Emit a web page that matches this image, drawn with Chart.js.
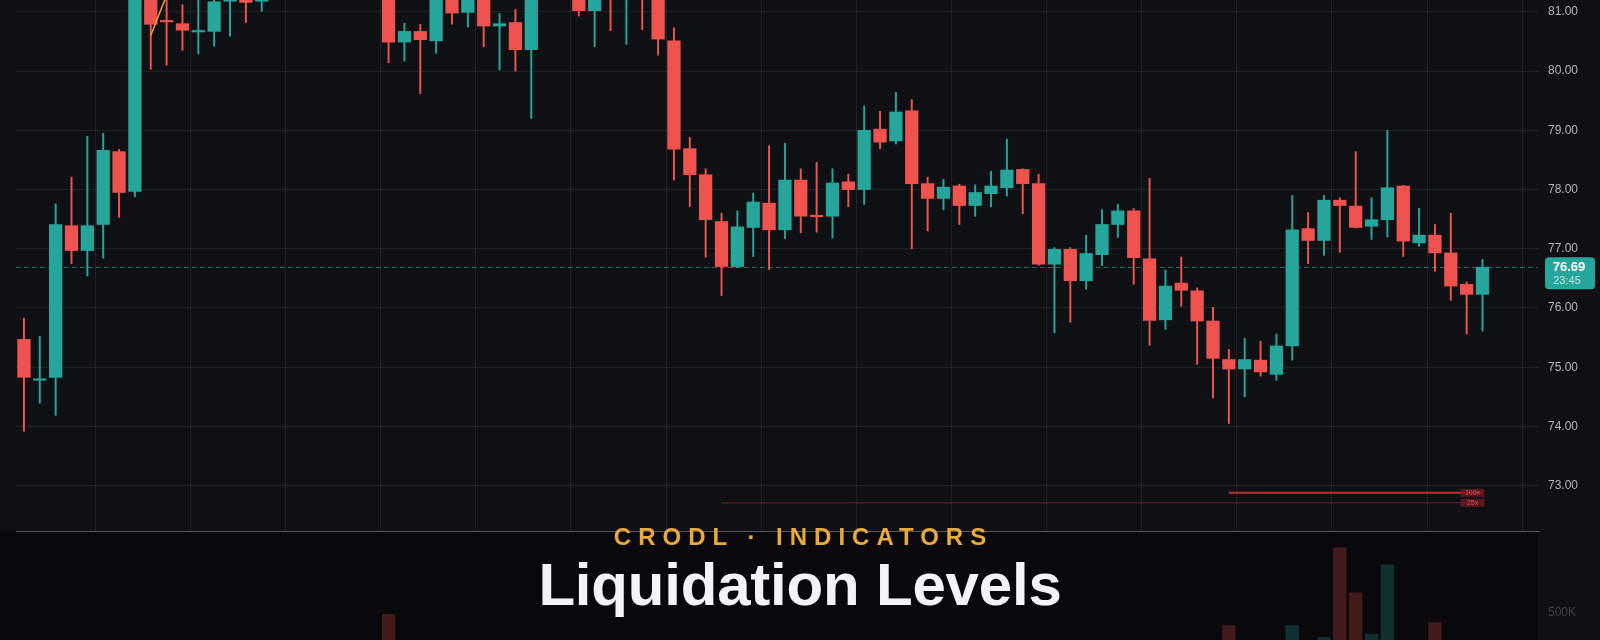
<!DOCTYPE html>
<html>
<head>
<meta charset="utf-8">
<title>Liquidation Levels</title>
<script src="https://cdn.jsdelivr.net/npm/chart.js@4.4.1/dist/chart.umd.min.js"></script>
<style>
  html, body { margin: 0; padding: 0; background: #0f1014; }
  #wrap { position: relative; width: 1600px; height: 640px; overflow: hidden; }
  #chart { position: absolute; left: 0; top: 0; }
  .kicker {
    position: absolute; left: 0; top: 525px; width: 1600px; padding-left: 7px; box-sizing: border-box;
    text-align: center; font: 700 24px/24px "Liberation Sans", Arial, sans-serif;
    letter-spacing: 7px; color: #e9a93b;
  }
  .title {
    position: absolute; left: 0; top: 555px; width: 1600px;
    text-align: center; font: 700 60px/60px "Liberation Sans", Arial, sans-serif;
    letter-spacing: -0.2px; color: #f4f4f6;
  }
</style>
</head>
<body>
<div id="wrap">
  <canvas id="chart" width="1600" height="640"></canvas>
  <div class="kicker">CRODL · INDICATORS</div>
  <div class="title">Liquidation Levels</div>
</div>
<script>
// candles (top ones run above the visible range)
const opens = [75.47, 74.78, 74.83, 77.39, 76.97, 77.41, 78.64, 77.97, 81.40, 80.85,
  80.80, 80.66, 80.67, 81.18, 81.40, 81.18, 81.35, 81.80, 82.05, 81.85,
  81.65, 81.90, 81.55, 81.70, 80.49, 80.67, 80.51, 81.45, 80.99, 81.35,
  80.76, 80.82, 80.36, 81.50, 81.75, 81.45, 81.02, 81.70, 81.40, 81.80,
  81.45, 80.51, 78.69, 78.25, 77.46, 76.70, 77.36, 77.77, 77.32, 78.16,
  77.56, 77.55, 78.13, 78.00, 79.02, 78.82, 79.33, 78.10, 77.85, 78.06,
  77.73, 77.93, 78.03, 78.34, 78.10, 76.74, 76.99, 76.46, 76.90, 77.41,
  77.64, 76.83, 75.80, 76.42, 76.29, 75.78, 75.13, 74.97, 75.12, 74.88,
  75.36, 77.34, 77.14, 77.82, 77.72, 77.38, 77.49, 78.06, 77.10, 77.23,
  76.93, 76.40, 76.23];
const highs = [75.83, 75.52, 77.76, 78.21, 78.90, 78.95, 78.68, 81.50, 81.50, 81.30,
  81.12, 81.30, 81.35, 81.50, 81.50, 81.45, 81.90, 82.20, 82.30, 82.10,
  81.95, 82.00, 81.80, 81.85, 80.81, 80.79, 81.60, 81.55, 81.50, 81.45,
  80.97, 81.04, 81.60, 81.90, 81.95, 81.60, 81.70, 81.85, 82.00, 81.90,
  81.60, 80.73, 78.88, 78.35, 77.60, 77.64, 77.94, 78.74, 78.78, 78.35,
  78.46, 78.35, 78.26, 79.41, 79.32, 79.64, 79.52, 78.21, 78.17, 78.09,
  78.08, 78.31, 78.85, 78.35, 78.26, 77.02, 77.02, 77.23, 77.66, 77.75,
  77.68, 78.19, 76.64, 76.86, 76.34, 76.01, 75.30, 75.49, 75.44, 75.56,
  77.90, 77.61, 77.90, 77.86, 78.64, 77.86, 79.00, 78.07, 77.68, 77.41,
  77.60, 76.44, 76.82];
const lows = [73.92, 74.39, 74.19, 76.75, 76.54, 76.84, 77.53, 77.88, 80.03, 80.10,
  80.35, 80.29, 80.42, 80.59, 80.82, 81.01, 81.30, 81.60, 81.70, 81.50,
  81.40, 81.45, 81.35, 80.14, 80.17, 79.62, 80.30, 80.79, 80.74, 80.41,
  80.02, 80.00, 79.20, 81.30, 81.35, 80.93, 80.41, 80.68, 80.45, 80.70,
  80.27, 78.16, 77.71, 76.86, 76.21, 76.68, 76.87, 76.65, 77.17, 77.27,
  77.28, 77.18, 77.71, 77.75, 78.69, 78.77, 77.00, 77.30, 77.66, 77.41,
  77.55, 77.71, 77.89, 77.59, 76.72, 75.58, 75.76, 76.32, 76.72, 77.19,
  76.40, 75.37, 75.64, 76.03, 75.05, 74.48, 74.05, 74.50, 74.85, 74.78,
  75.12, 76.75, 76.89, 76.94, 77.35, 77.16, 77.20, 76.87, 77.04, 76.62,
  76.13, 75.56, 75.61];
const closes = [74.83, 74.80, 77.41, 76.97, 77.39, 78.66, 77.95, 81.40, 80.79, 80.83,
  80.69, 80.68, 81.17, 81.40, 81.16, 81.35, 81.80, 82.05, 81.85, 81.65,
  81.90, 81.55, 81.70, 80.49, 80.67, 80.53, 81.45, 80.98, 81.35, 80.76,
  80.80, 80.36, 81.50, 81.75, 81.45, 81.02, 81.50, 81.40, 81.80, 81.45,
  80.54, 78.68, 78.25, 77.49, 76.70, 77.37, 77.79, 77.32, 78.16, 77.55,
  77.54, 78.11, 78.00, 79.00, 78.80, 79.31, 78.10, 77.85, 78.04, 77.73,
  77.95, 78.06, 78.33, 78.10, 76.74, 76.99, 76.46, 76.92, 77.41, 77.64,
  76.85, 75.79, 76.37, 76.30, 75.78, 75.15, 74.97, 75.13, 74.92, 75.36,
  77.32, 77.14, 77.82, 77.73, 77.36, 77.49, 78.03, 77.13, 77.23, 76.93,
  76.37, 76.23, 76.69];
// volume, most bars sit below the cropped bottom edge
const volumes = [95, 60, 130, 85, 110, 120, 90, 140, 120, 70,
  65, 55, 80, 75, 60, 50, 70, 90, 85, 60,
  75, 80, 65, 483, 90, 110, 120, 80, 70, 95,
  85, 100, 135, 90, 75, 70, 95, 85, 110, 90,
  125, 140, 110, 120, 130, 95, 80, 100, 105, 75,
  70, 85, 60, 120, 80, 90, 135, 70, 55, 60,
  50, 65, 85, 70, 140, 110, 95, 80, 90, 65,
  100, 145, 105, 75, 120, 130, 338, 115, 90, 100,
  338, 120, 182, 1344, 760, 221, 1123, 140, 95, 374,
  130, 110, 90].map(v => v * 1000);

const slotCount = 96; // 93 candles + empty space on the right
const labels = Array.from({length: slotCount}, (_, i) => 'c' + i);
const priceTicks = [73, 74, 75, 76, 77, 78, 79, 80, 81];
const volumeTicks = [500000];

// liquidation levels: [level, first candle, tag]
const liqLevels = [72.88, 72.71];
const liqStart = [76, 44];
const liqTags = ['100x', '25x'];
const liqColors = ['rgba(214,52,62,0.85)', 'rgba(150,38,46,0.75)'];

// short orange drawing near the top left
const trendIdx = [8, 9];
const trendVals = [80.6, 81.28];

const lastClose = closes[closes.length - 1];
const lastIdx = closes.length - 1;

const upColor = '#26a69a';
const downColor = '#ef5350';
const gridColor = 'rgba(255,255,255,0.075)';
const fontFamily = '"Liberation Sans", Arial, sans-serif';

const candleColors = closes.map((c, i) => c >= opens[i] ? upColor : downColor);
const volColors = closes.map((c, i) => c >= opens[i] ? 'rgba(38,166,154,0.26)' : 'rgba(239,83,80,0.26)');

// no room reserved for half tick labels, the plot runs edge to edge
function noPad(s) {
    s.paddingTop = 0;
    s.paddingBottom = 0;
}

const panePlugin = {
    id: 'panes',
    beforeDatasetsDraw(chart) {
        const {ctx, chartArea, scales} = chart;
        const vol = scales.y2;
        ctx.save();
        // volume pane
        ctx.fillStyle = '#09090b';
        ctx.fillRect(0, vol.top, chartArea.right, vol.bottom - vol.top);
        ctx.strokeStyle = '#55575c';
        ctx.lineWidth = 1;
        ctx.beginPath();
        ctx.moveTo(chartArea.left, Math.round(vol.top) + 0.5);
        ctx.lineTo(chartArea.right + 2, Math.round(vol.top) + 0.5);
        ctx.stroke();
        // last price line
        const yp = scales.y.getPixelForValue(lastClose);
        ctx.strokeStyle = 'rgba(38,166,154,0.6)';
        ctx.setLineDash([5, 3]);
        ctx.beginPath();
        ctx.moveTo(chartArea.left, Math.round(yp) + 0.5);
        ctx.lineTo(chartArea.right, Math.round(yp) + 0.5);
        ctx.stroke();
        ctx.restore();
    },
    afterDraw(chart) {
        const {ctx, scales} = chart;
        const yp = scales.y.getPixelForValue(lastClose);
        ctx.save();
        // price tag
        ctx.fillStyle = upColor;
        ctx.beginPath();
        ctx.roundRect(1545, yp - 10, 50, 32, 4);
        ctx.fill();
        ctx.textAlign = 'center';
        ctx.textBaseline = 'middle';
        ctx.fillStyle = '#ffffff';
        ctx.font = '700 13px ' + fontFamily;
        ctx.fillText(lastClose.toFixed(2), 1569, yp + 0.5);
        ctx.fillStyle = 'rgba(255,255,255,0.72)';
        ctx.font = '11px ' + fontFamily;
        ctx.fillText('23:45', 1567, yp + 13.5);
        // liquidation tags
        liqLevels.forEach((lv, k) => {
            const y = scales.y.getPixelForValue(lv);
            const xr = scales.x.getPixelForValue(lastIdx) + 2;
            ctx.fillStyle = 'rgba(110,24,32,0.75)';
            ctx.fillRect(xr - 24, y - 4, 24, 8);
            ctx.fillStyle = '#e0505a';
            ctx.font = '7px ' + fontFamily;
            ctx.textAlign = 'center';
            ctx.fillText(liqTags[k], xr - 12, y + 0.5);
        });
        ctx.restore();
    }
};

const liqSets = liqLevels.map((lv, k) => ({
    type: 'line',
    label: liqTags[k],
    data: [{x: labels[liqStart[k]], y: lv}, {x: labels[lastIdx], y: lv}],
    borderColor: liqColors[k],
    borderWidth: k === 0 ? 2 : 1,
    pointRadius: 0,
    yAxisID: 'y',
    order: 0
}));

new Chart(document.getElementById('chart'), {
    type: 'bar',
    data: {
        labels: labels,
        datasets: [
            ...liqSets,
            {
                type: 'line',
                label: 'drawing',
                data: trendIdx.map((i, k) => ({x: labels[i], y: trendVals[k]})),
                borderColor: '#f0a030',
                borderWidth: 1.5,
                pointRadius: 0,
                yAxisID: 'y',
                order: 0
            },
            {
                label: 'body',
                data: opens.map((o, i) => [o, closes[i]]),
                backgroundColor: candleColors,
                barThickness: 12.6,
                minBarLength: 1.5,
                grouped: false,
                yAxisID: 'y',
                order: 1
            },
            {
                label: 'wick',
                data: lows.map((l, i) => [l, highs[i]]),
                backgroundColor: candleColors,
                barThickness: 1.3,
                grouped: false,
                yAxisID: 'y',
                order: 2
            },
            {
                label: 'volume',
                data: volumes,
                backgroundColor: volColors,
                barThickness: 12.6,
                grouped: false,
                yAxisID: 'y2',
                order: 3
            }
        ]
    },
    options: {
        responsive: false,
        animation: false,
        layout: { padding: { left: 16, right: 0, top: 0, bottom: 0 } },
        plugins: { legend: { display: false }, tooltip: { enabled: false } },
        scales: {
            x: {
                offset: true,
                afterFit: s => { s.height = 0; s.paddingLeft = 0; s.paddingRight = 0; },
                ticks: { display: false },
                border: { display: false },
                grid: {
                    offset: true,
                    drawTicks: false,
                    color: c => (c.index % 6 === 5 ? gridColor : 'transparent')
                }
            },
            y: {
                position: 'right',
                stack: 'panes',
                stackWeight: 531,
                min: 72.235,
                max: 81.2,
                afterBuildTicks: s => { s.ticks = priceTicks.map(v => ({value: v})); },
                afterFit: s => { s.width = 62; noPad(s); },
                border: { display: false },
                grid: { color: gridColor, drawTicks: false },
                ticks: {
                    padding: 10,
                    color: '#b2b5be',
                    font: { size: 12, family: fontFamily },
                    callback: v => Number(v).toFixed(2)
                }
            },
            y2: {
                position: 'right',
                stack: 'panes',
                stackWeight: 109,
                min: 150000,
                max: 1563000,
                afterBuildTicks: s => { s.ticks = volumeTicks.map(v => ({value: v})); },
                afterFit: s => { s.width = 62; noPad(s); },
                border: { display: false },
                grid: { display: false, drawTicks: false },
                ticks: {
                    padding: 10,
                    color: '#3e4148',
                    font: { size: 12, family: fontFamily },
                    callback: v => (v / 1000) + 'K'
                }
            }
        }
    },
    plugins: [panePlugin]
});
</script>
</body>
</html>
